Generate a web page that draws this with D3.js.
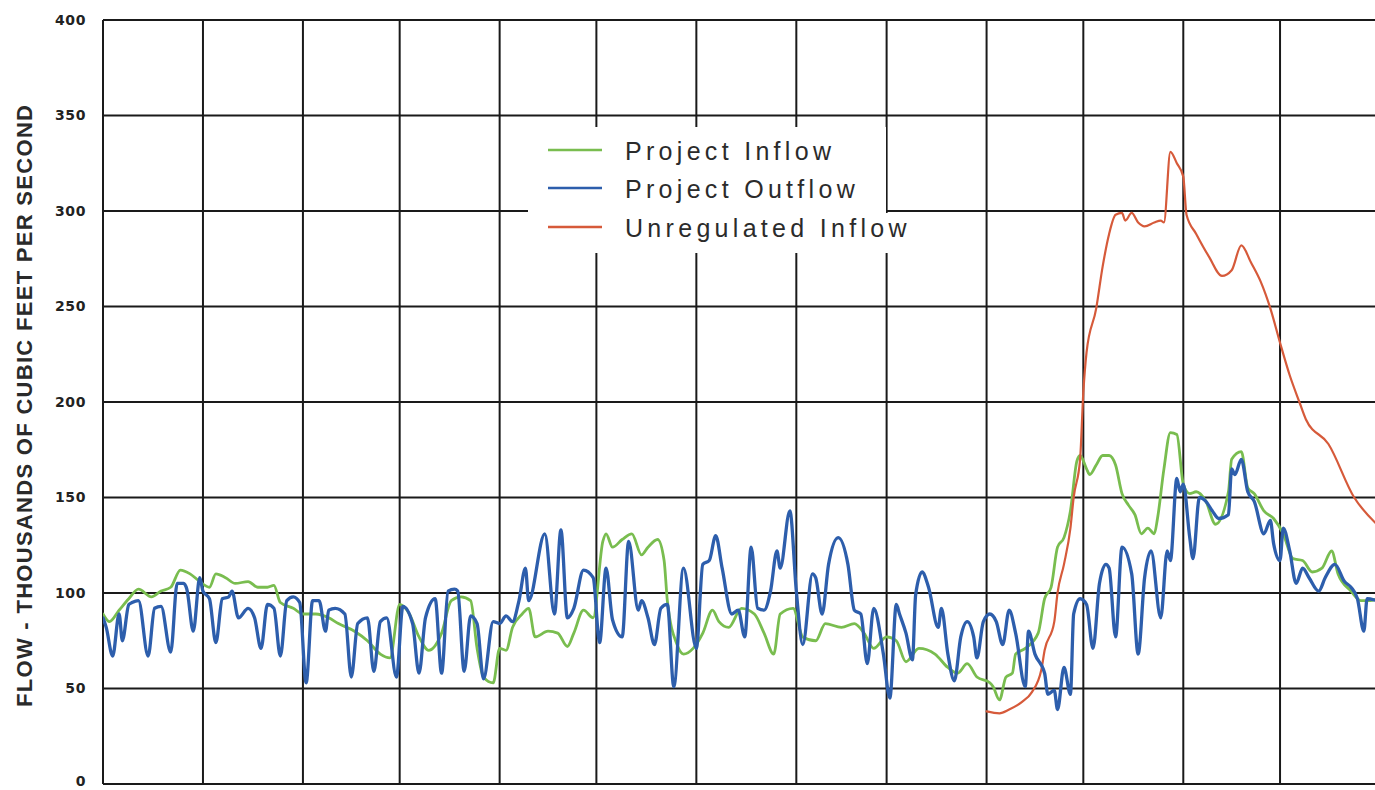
<!DOCTYPE html>
<html>
<head>
<meta charset="utf-8">
<script src="https://cdn.jsdelivr.net/npm/d3@7"></script>
<style>
  html, body { margin: 0; padding: 0; background: #fff; }
  svg { display: block; }
</style>
</head>
<body>
<svg id="chart" width="1375" height="790"></svg>
<script>
// Flow axis ticks, thousands of cubic feet per second
const yTicks = [0, 50, 100, 150, 200, 250, 300, 350, 400];

// Record spans July 1 through the following July (monthly grid)
const recordStart = new Date(Date.UTC(1985, 6, 1));
const recordEnd = new Date(Date.UTC(1986, 7, 1));

const seriesNames = ["Project Inflow", "Project Outflow", "Unregulated Inflow"];
const seriesColors = ["#79bd4f", "#2d5eac", "#d65a3a"];

// [day of record, flow in kcfs]
const projectInflow = [
  [0,89],[2,85],[5,91],[8,97],[11,102],[15,98],[18,101],[21,103],[24,112],[27,110],[30,106],[33,103],
  [35,110],[38,108],[41,105],[45,106],[48,103],[51,103],[53,104],[55,95],[59,92],[62,89],[66,89],[70,87],
  [73,84],[78,80],[82,75],[86,68],[89,66],[92,94],[95,89],[98,77],[101,70],[105,79],[108,96],[111,98],
  [114,96],[116,71],[118,56],[121,53],[123,71],[125,70],[127,82],[130,89],[132,92],[134,77],[138,80],
  [141,79],[144,72],[146,79],[149,91],[152,87],[155,127],[156,131],[158,124],[161,128],[164,131],[167,120],
  [169,124],[172,128],[174,117],[175,96],[178,73],[180,68],[183,71],[186,79],[189,91],[191,85],[194,82],
  [198,92],[202,89],[205,79],[208,68],[210,89],[214,92],[217,77],[221,75],[224,84],[229,82],[233,84],
  [236,79],[239,71],[243,77],[246,75],[249,64],[253,71],[258,68],[262,61],[265,58],[268,63],[271,56],
  [275,53],[276,51],[278,44],[280,56],[282,58],[283,68],[286,71],[290,79],[292,97],[294,103],[296,124],
  [298,129],[300,143],[302,169],[303,172],[305,165],[306,162],[308,167],[310,172],[312,172],[314,167],
  [316,152],[318,146],[320,141],[322,131],[324,134],[326,131],[327,139],[329,165],[331,184],[333,183],
  [335,157],[337,152],[339,153],[342,148],[345,136],[349,153],[350,170],[353,174],[355,155],[357,152],
  [360,143],[363,139],[366,131],[369,118],[372,117],[375,111],[378,113],[381,122],[383,110],[387,101],
  [390,96],[393,96],[395,97]
];

const projectOutflow = [
  [0,87],[1,82],[3,67],[5,89],[6,75],[8,94],[9,95],[11,96],[14,67],[16,92],[18,93],[21,69],[23,105],
  [25,105],[26,102],[28,80],[30,108],[31,101],[33,97],[35,74],[37,97],[39,98],[40,101],[42,87],[45,92],
  [47,87],[49,71],[51,94],[53,92],[55,67],[57,96],[59,98],[61,95],[63,53],[65,96],[67,96],[69,80],[70,91],
  [72,92],[75,89],[77,56],[79,84],[82,87],[84,59],[86,85],[88,87],[91,56],[93,93],[96,84],[98,58],[100,87],
  [103,97],[105,58],[107,101],[109,102],[110,101],[112,59],[114,88],[116,84],[118,55],[121,85],[123,84],
  [125,88],[127,85],[129,96],[131,113],[132,96],[137,131],[140,89],[142,133],[144,87],[146,92],[149,112],
  [152,108],[154,74],[156,113],[158,86],[161,77],[163,127],[166,91],[167,96],[169,87],[171,73],[173,92],
  [175,94],[177,51],[180,113],[184,71],[186,115],[188,117],[190,130],[192,113],[195,89],[197,91],[199,77],
  [201,124],[203,92],[205,91],[207,101],[209,122],[210,113],[213,143],[215,101],[217,73],[220,110],[221,108],
  [223,89],[225,115],[228,129],[231,115],[233,91],[235,89],[237,63],[239,92],[242,68],[244,45],[246,94],
  [247,89],[249,79],[251,65],[252,99],[254,111],[256,103],[259,82],[260,92],[262,68],[264,54],[266,77],
  [268,85],[270,77],[271,66],[273,85],[275,89],[277,85],[279,73],[281,91],[283,79],[286,51],[287,80],
  [289,68],[292,58],[293,47],[295,49],[296,39],[298,61],[300,47],[301,89],[303,97],[305,94],[307,71],
  [309,105],[311,115],[312,113],[314,77],[316,124],[319,110],[321,68],[323,108],[325,122],[328,87],
  [330,122],[331,117],[333,160],[334,153],[335,157],[337,129],[338,118],[340,150],[342,148],[344,143],
  [346,139],[349,141],[350,165],[351,162],[353,170],[355,153],[357,148],[360,131],[362,138],[363,126],
  [365,117],[366,134],[368,122],[370,105],[372,113],[374,108],[377,101],[379,108],[382,115],[385,106],
  [387,103],[389,97],[391,80],[392,97],[395,96]
];

const unregulatedInflow = [
  [274,38],[278,37],[281,39],[285,43],[288,48],[291,60],[292,70],[295,85],[296,100],[298,115],[300,134],
  [301,150],[303,170],[304,205],[305,226],[308,249],[310,271],[312,288],[314,298],[316,299],[317,295],
  [319,299],[321,294],[323,292],[326,294],[328,295],[329,294],[331,331],[333,325],[335,318],[336,298],
  [339,288],[343,276],[347,266],[350,269],[353,282],[356,273],[359,263],[362,249],[365,231],[368,214],
  [371,200],[373,191],[380,178],[388,150],[395,136]
];

const seriesData = [projectInflow, projectOutflow, unregulatedInflow];
const seriesWidths = [2.8, 3.3, 2.2];

// Layout
const plot = { left: 103, right: 1380, top: 20, bottom: 784 };

const svg = d3.select("#chart");

const x = d3.scaleUtc().domain([recordStart, recordEnd]).range([plot.left, plot.right]);
const y = d3.scaleLinear().domain([0, 400]).range([plot.bottom, plot.top]);
const dayToDate = d => d3.utcDay.offset(recordStart, d);

svg.append("defs").append("clipPath").attr("id", "plot-clip")
  .append("rect")
  .attr("x", plot.left).attr("y", plot.top)
  .attr("width", plot.right - plot.left).attr("height", plot.bottom - plot.top);

// Grid: horizontal at each flow tick, vertical at each month boundary
const grid = svg.append("g").attr("stroke", "#1a1a1a").attr("stroke-width", 2);
grid.selectAll("line.h").data(yTicks).join("line")
  .attr("class", "h")
  .attr("x1", plot.left).attr("x2", plot.right)
  .attr("y1", d => y(d)).attr("y2", d => y(d));
const months = d3.utcMonth.range(recordStart, d3.utcDay.offset(recordEnd, 1));
grid.selectAll("line.v").data(months).join("line")
  .attr("class", "v")
  .attr("x1", d => x(d)).attr("x2", d => x(d))
  .attr("y1", plot.top).attr("y2", plot.bottom);

// Y axis labels
const yAxis = d3.axisLeft(y).tickValues(yTicks).tickSize(0).tickPadding(17).tickFormat(d3.format("d"));
const yAxisG = svg.append("g").attr("transform", `translate(${plot.left},0)`).call(yAxis);
yAxisG.select(".domain").remove();
yAxisG.selectAll("text")
  .attr("fill", "#222")
  .attr("dy", "0.3em")
  .style("font-family", "'DejaVu Sans', sans-serif")
  .style("font-weight", "bold")
  .style("font-size", "14px")
  .style("letter-spacing", "0.6px");
yAxisG.selectAll(".tick").filter(d => d === 0).select("text").attr("dy", "0.1em");

// Axis title
svg.append("text")
  .attr("transform", `translate(32, ${(105 + 707) / 2}) rotate(-90)`)
  .attr("text-anchor", "middle")
  .attr("textLength", 602)
  .attr("lengthAdjust", "spacing")
  .attr("fill", "#2a2a2a")
  .style("font-family", "'Liberation Sans', Arial, sans-serif")
  .style("font-weight", "bold")
  .style("font-size", "22px")
  .text("FLOW - THOUSANDS OF CUBIC FEET PER SECOND");

// Series lines
const line = d3.line()
  .x(d => x(dayToDate(d[0])))
  .y(d => y(d[1]))
  .curve(d3.curveMonotoneX);

const drawOrder = [0, 2, 1];
svg.append("g").attr("clip-path", "url(#plot-clip)")
  .selectAll("path").data(drawOrder).join("path")
  .attr("d", i => line(seriesData[i]))
  .attr("fill", "none")
  .attr("stroke", i => seriesColors[i])
  .attr("stroke-width", i => seriesWidths[i])
  .attr("stroke-linejoin", "round")
  .attr("stroke-linecap", "round");

// Legend with white backing over the grid
const legend = svg.append("g");
legend.append("rect").attr("x", 528).attr("y", 127).attr("width", 358).attr("height", 86).attr("fill", "#fff");
legend.append("rect").attr("x", 528).attr("y", 213).attr("width", 394).attr("height", 40).attr("fill", "#fff");

const rowBaseline = [160, 198, 237];
const rows = legend.selectAll("g.row").data(seriesNames).join("g").attr("class", "row");
rows.append("line")
  .attr("x1", 548).attr("x2", 602)
  .attr("y1", (d, i) => rowBaseline[i] - 10)
  .attr("y2", (d, i) => rowBaseline[i] - 10)
  .attr("stroke", (d, i) => seriesColors[i])
  .attr("stroke-width", 2.5);
rows.append("text")
  .attr("x", 625)
  .attr("y", (d, i) => rowBaseline[i])
  .attr("fill", "#2b2b2b")
  .style("font-family", "'Liberation Sans', Arial, sans-serif")
  .style("font-size", "25px")
  .style("letter-spacing", "4.3px")
  .text(d => d);
</script>
</body>
</html>
